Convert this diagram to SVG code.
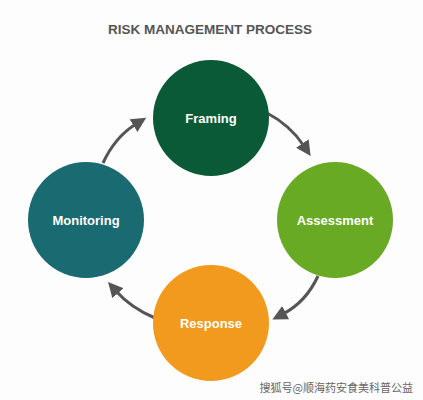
<svg xmlns="http://www.w3.org/2000/svg" width="423" height="400" viewBox="0 0 423 400">
<style>
.lbl{font-family:"Liberation Sans",Arial,sans-serif;font-weight:bold;font-size:13px;fill:#fff;text-anchor:middle}
.arr{fill:none;stroke:#555;stroke-width:3}
</style>
<defs>
<marker id="ah" viewBox="0 0 10 10" refX="2" refY="5" markerWidth="5" markerHeight="5" orient="auto" markerUnits="strokeWidth">
<path d="M0,0 L10,5 L0,10 z" fill="#555"/>
</marker>
</defs>
<rect width="423" height="400" fill="#fdfdfd"/>
<text x="210" y="34" font-family="Liberation Sans,Arial,sans-serif" font-weight="bold" font-size="13.5" fill="#555" text-anchor="middle">RISK MANAGEMENT PROCESS</text>
<g id="connectors">
<path class="arr" d="M267,113 Q290,125 304,146" marker-end="url(#ah)"/>
<path class="arr" d="M318,276 Q306,302 283,314" marker-end="url(#ah)"/>
<path class="arr" d="M155,318 Q131,308 116,291" marker-end="url(#ah)"/>
<path class="arr" d="M103,163 Q115,137 136,124" marker-end="url(#ah)"/>
</g>
<g id="framing"><circle cx="211" cy="118" r="58" fill="#0a5a38"/><text class="lbl" x="211" y="123">Framing</text></g>
<g id="assessment"><circle cx="335" cy="220" r="58" fill="#69aa24"/><text class="lbl" x="335" y="225">Assessment</text></g>
<g id="response"><circle cx="211" cy="323" r="58" fill="#f29a1d"/><text class="lbl" x="211" y="328">Response</text></g>
<g id="monitoring"><circle cx="86" cy="220" r="58" fill="#1a6a72"/><text class="lbl" x="86" y="225">Monitoring</text></g>
<text x="413" y="392" font-family="Noto Sans CJK SC,sans-serif" font-size="11" fill="#666" text-anchor="end">搜狐号@顺海药安食美科普公益</text>
</svg>
